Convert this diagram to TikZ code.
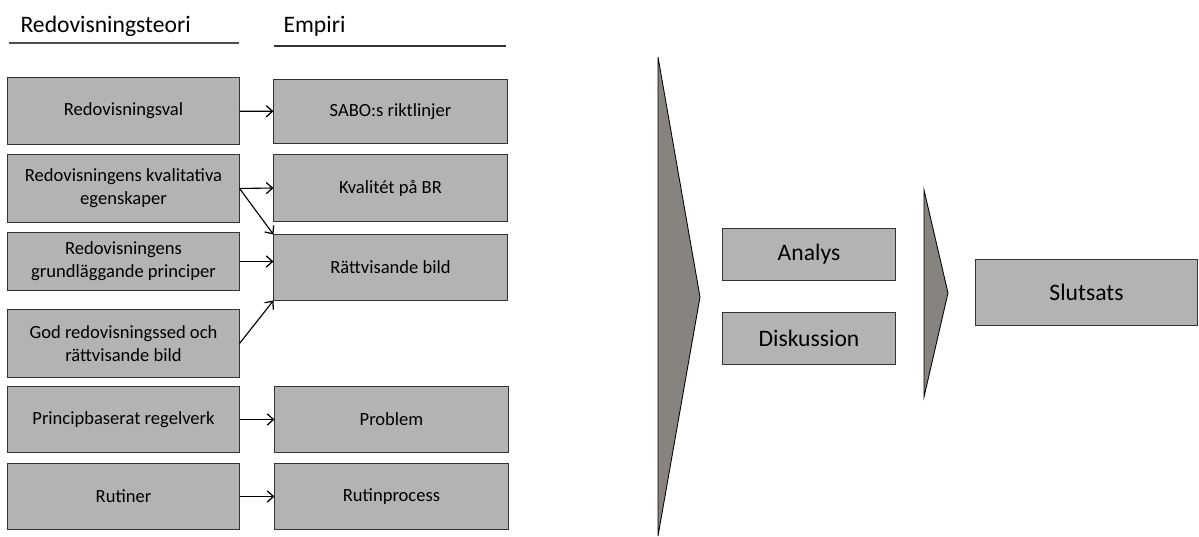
\documentclass[tikz,border=0pt]{standalone}
\usepackage{fontspec}
\setmainfont{Carlito}
\usetikzlibrary{arrows.meta}
\definecolor{boxgray}{HTML}{B3B3B3}
\definecolor{wedgegray}{HTML}{87837F}
\tikzset{
  box/.style={draw=black!80, fill=boxgray, line width=0.7pt, align=center,
    inner sep=0pt, font=\fontsize{13.2}{16.3}\selectfont},
  lbox/.style={box, minimum width=5.775cm},
  rbox/.style={box, minimum width=5.825cm},
  bigbox/.style={box, font=\fontsize{16.8}{20}\selectfont},
  head/.style={anchor=base west, inner sep=0pt, font=\fontsize{16.8}{20}\selectfont},
  wedge/.style={fill=wedgegray, draw=black, line width=0.6pt},
}
\begin{document}
\begin{tikzpicture}[x=0.025cm,y=-0.025cm,>={Straight Barb[length=4.5pt,width=8pt,line width=0.9pt]},line width=0.8pt]
\useasboundingbox (0,0) rectangle (1199,537);

\node[head] (teori) at (20,33) {Redovisningsteori};
\node[head] (empiri) at (283,33) {Empiri};
\draw[black!70] (9,43) -- (239,43);
\draw[black!80] (274,46) -- (506,46);

\node[lbox,minimum height=1.65cm] (val) at (123.5,111) {Redovisningsval};
\node[lbox,minimum height=1.675cm] (kvalitativa) at (123.5,188.5) {Redovisningens kvalitativa\\egenskaper};
\node[lbox,minimum height=1.425cm] (principer) at (123.5,261.5) {Redovisningens\\grundläggande principer};
\node[lbox,minimum height=1.675cm] (sed) at (123.5,343.5) {God redovisningssed och\\rättvisande bild};
\node[lbox,minimum height=1.625cm] (regelverk) at (123.5,419.5) {Principbaserat regelverk};
\node[lbox,minimum height=1.625cm] (rutiner) at (123.5,496.5) {Rutiner};

\node[rbox,minimum height=1.575cm] (sabo) at (390.5,111.5) {SABO:s riktlinjer};
\node[rbox,minimum height=1.65cm] (br) at (390.5,188) {Kvalitét på BR};
\node[rbox,minimum height=1.625cm] (bild) at (390.5,267.5) {Rättvisande bild};
\node[rbox,minimum height=1.625cm] (problem) at (391.5,419.5) {Problem};
\node[rbox,minimum height=1.625cm] (process) at (391.5,496.5) {Rutinprocess};

\draw[->] (val) -- (sabo);
\draw[->] (kvalitativa.east) -- (br.west);
\draw[->] (kvalitativa.east) -- (bild.north west);
\draw[->] (principer.east) -- (principer.east -| bild.west);
\draw[->] (sed.east) -- (bild.south west);
\draw[->] (regelverk) -- (problem);
\draw[->] (rutiner) -- (process);

% wedges
\draw[wedge] (658,57) -- (700,297) -- (658,536) -- cycle;
\draw[wedge] (924,190) -- (948,293) -- (924,397) -- cycle;

\node[bigbox,minimum width=4.3cm,minimum height=1.275cm] (analys) at (809,254.5) {Analys};
\node[bigbox,minimum width=4.3cm,minimum height=1.275cm] (diskussion) at (809,338.5) {Diskussion};
\node[bigbox,minimum width=5.525cm,minimum height=1.625cm] (slutsats) at (1086.5,292.5) {Slutsats};
\end{tikzpicture}
\end{document}
